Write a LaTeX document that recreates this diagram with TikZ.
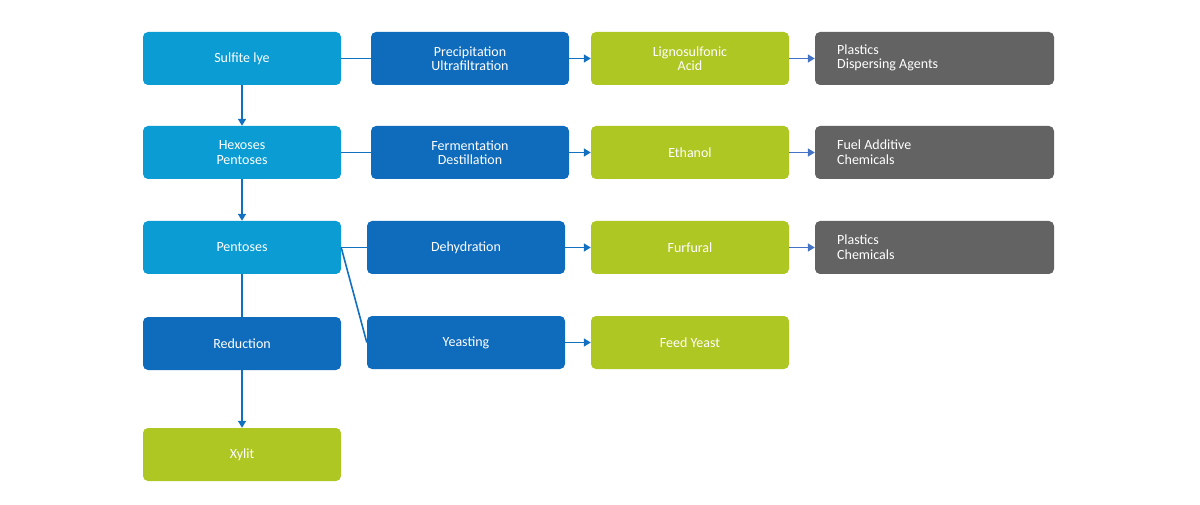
\documentclass[tikz,border=0pt]{standalone}
\usepackage{fontspec}
\setmainfont{Carlito}
\usetikzlibrary{arrows.meta}
\definecolor{lb}{HTML}{0A9CD3}
\definecolor{db}{HTML}{0F6BBC}
\definecolor{gr}{HTML}{AEC722}
\definecolor{gy}{HTML}{636363}
\definecolor{ln}{HTML}{1270C0}
\definecolor{ln2}{HTML}{4472C4}
\begin{document}
\begin{tikzpicture}[x=1pt,y=-1pt,
 box/.style={rounded corners=5pt,text=white,font=\fontsize{14}{14.5}\selectfont,align=center,inner sep=0pt},
 c/.style={draw=ln,line width=1.6pt},
 a/.style={c,-{Triangle[length=7pt,width=8pt]}},
 a2/.style={draw=ln2,line width=1.6pt,-{Triangle[length=7pt,width=8pt]}}]
\useasboundingbox (0,0) rectangle (1200,505);
\newcommand{\bx}[6]{\fill[#2,rounded corners=5pt] (#3,#4) rectangle (#5,#6);
 \node[box,minimum width=#5pt-#3pt,minimum height=#6pt-#4pt] (#1) at ({(#3+#5)/2},{(#4+#6)/2}) {};}
\bx{s}{lb}{143}{32}{341}{85}
\bx{h}{lb}{143}{126}{341}{179}
\bx{p}{lb}{143}{221}{341}{274}
\bx{r}{db}{143}{317}{341}{370}
\bx{x}{gr}{143}{428}{341}{481}
\bx{pu}{db}{371}{32}{569}{85}
\bx{fd}{db}{371}{126}{569}{179}
\bx{dh}{db}{367}{221}{565}{274}
\bx{ye}{db}{367}{316}{565}{369}
\bx{la}{gr}{591}{32}{789}{85}
\bx{et}{gr}{591}{126}{789}{179}
\bx{fu}{gr}{591}{221}{789}{274}
\bx{fy}{gr}{591}{316}{789}{369}
\bx{g1}{gy}{815}{32}{1054}{85}
\bx{g2}{gy}{815}{126}{1054}{179}
\bx{g3}{gy}{815}{221}{1054}{274}
\begin{scope}[every node/.style={box}]
\node at (s) {Sulfite lye};
\node at (h) {Hexoses\\Pentoses};
\node at (p) {Pentoses};
\node at (r) {Reduction};
\node at (x) {Xylit};
\node at (pu) {Precipitation\\Ultrafiltration};
\node at (fd) {Fermentation\\Destillation};
\node at (dh) {Dehydration};
\node at (ye) {Yeasting};
\node at (la) {Lignosulfonic\\Acid};
\node at (et) {Ethanol};
\node at (fu) {Furfural};
\node at (fy) {Feed Yeast};
\node[align=left,anchor=west] at (837,58) {Plastics\\Dispersing Agents};
\node[align=left,anchor=west] at (837,152) {Fuel Additive\\Chemicals};
\node[align=left,anchor=west] at (837,247) {Plastics\\Chemicals};
\end{scope}
\draw[a] (s.south) -- (h.north);
\draw[a] (h.south) -- (p.north);
\draw[c] (p.south) -- (r.north);
\draw[a] (r.south) -- (x.north);
\draw[c] (s.east) -- (pu.west);
\draw[c] (h.east) -- (fd.west);
\draw[c] (p.east) -- (dh.west);
\draw[c] (p.east) -- (ye.west);
\draw[a] (pu.east) -- (la.west);
\draw[a] (fd.east) -- (et.west);
\draw[a] (dh.east) -- (fu.west);
\draw[a] (ye.east) -- (fy.west);
\draw[a2] (la.east) -- (g1.west);
\draw[a2] (et.east) -- (g2.west);
\draw[a2] (fu.east) -- (g3.west);
\end{tikzpicture}
\end{document}
